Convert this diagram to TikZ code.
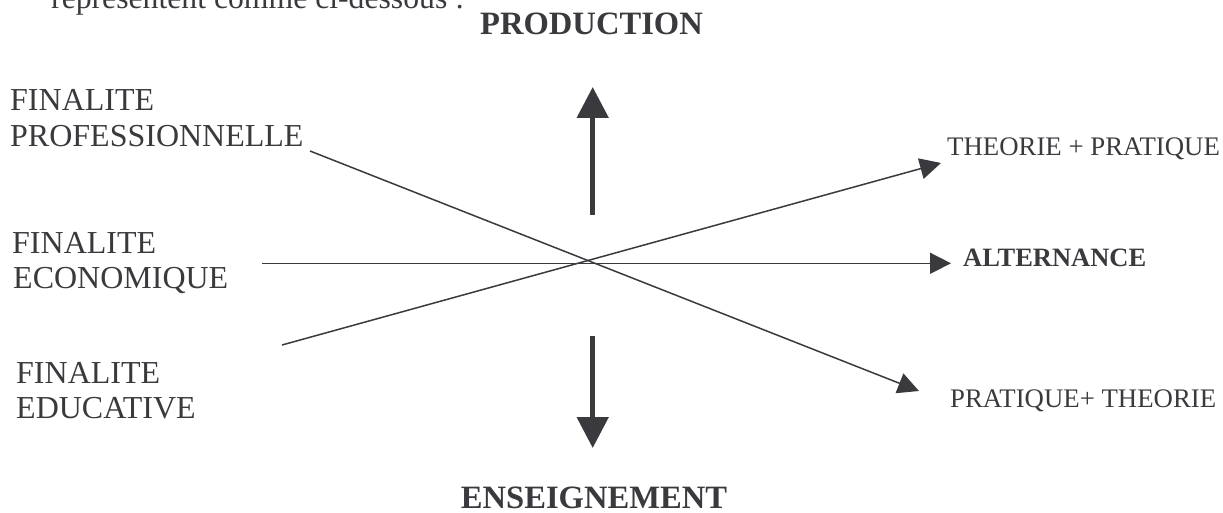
\documentclass[tikz,border=0pt]{standalone}
\usepackage{fontspec}
\setmainfont{Liberation Serif}
\usetikzlibrary{arrows.meta}
\definecolor{ink}{RGB}{58,58,62}
\begin{document}
\begin{tikzpicture}[x=1pt,y=-1pt,
  lbl/.style={inner sep=0pt,anchor=base west,text=ink,font=\fontsize{32}{36}\selectfont},
  small/.style={inner sep=0pt,anchor=base west,text=ink,font=\fontsize{26.8}{30}\selectfont},
  smallbold/.style={small,font=\fontsize{26.5}{30}\selectfont\bfseries},
  title/.style={inner sep=0pt,anchor=base,text=ink,font=\fontsize{32.6}{36}\selectfont\bfseries},
  thin/.style={draw=ink,line width=1.5pt,-{Triangle[length=21pt,width=21pt]}},
  thick/.style={draw=ink,line width=5pt,-{Triangle[length=31pt,width=31pt]}}]
\useasboundingbox (0,0) rectangle (1223,513);
\clip (0,0) rectangle (1223,513);

% end of the preceding sentence
\node[lbl,font=\fontsize{31.7}{35}\selectfont] (intro) at (51,9) {représentent comme ci-dessous :};

% vertical axis titles
\node[title] (prod) at (591.5,35) {PRODUCTION};
\node[title] (ens) at (594,508) {ENSEIGNEMENT};

% left-hand labels
\node[lbl] (prof1) at (10,111) {FINALITE};
\node[lbl] (prof2) at (10,147) {PROFESSIONNELLE};
\node[lbl] (eco1) at (12,253) {FINALITE};
\node[lbl] (eco2) at (13,288) {ECONOMIQUE};
\node[lbl] (edu1) at (16,383) {FINALITE};
\node[lbl] (edu2) at (16,418) {EDUCATIVE};

% right-hand labels
\node[small] (tp) at (947,156) {THEORIE + PRATIQUE};
\node[smallbold] (alt) at (963,266) {ALTERNANCE};
\node[small] (pt) at (950,407) {PRATIQUE+ THEORIE};

% end points of the lines
\coordinate (profS) at (310,151);
\coordinate (profE) at (919,391);
\coordinate (ecoS) at (262,263.3);
\coordinate (ecoE) at (951,263.3);
\coordinate (eduS) at (282,345);
\coordinate (eduE) at (941,163);
\coordinate (upS) at (592.7,215);
\coordinate (upE) at (592.7,87);
\coordinate (dnS) at (592.7,336);
\coordinate (dnE) at (592.7,448);

% crossing lines
\draw[thin] (profS) -- (profE);
\draw[thin] (ecoS) -- (ecoE);
\draw[thin] (eduS) -- (eduE);

% vertical arrows
\draw[thick] (upS) -- (upE);
\draw[thick] (dnS) -- (dnE);
\end{tikzpicture}
\end{document}
